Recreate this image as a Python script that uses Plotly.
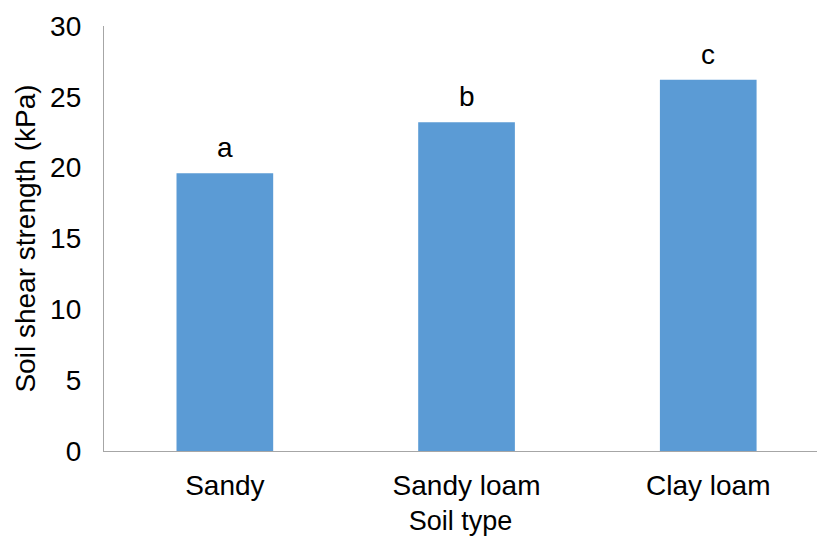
import plotly.graph_objects as go

# Soil shear strength by soil type, with significance letters
soil_types = ["Sandy", "Sandy loam", "Clay loam"]
shear_kpa = [19.6, 23.2, 26.2]
sig_letters = ["a", "b", "c"]
y_ticks = [0, 5, 10, 15, 20, 25, 30]

FONT = "Liberation Sans, Arial, sans-serif"
TICK_FONT = dict(family=FONT, size=28, color="black")

fig = go.Figure(
    go.Bar(
        x=list(range(len(soil_types))),
        y=shear_kpa,
        width=0.4,
        marker=dict(color="#5B9BD5", line=dict(width=0)),
        hoverinfo="skip",
    )
)

for i, (v, lab) in enumerate(zip(shear_kpa, sig_letters)):
    fig.add_annotation(
        x=i, y=v, text=lab, showarrow=False,
        yanchor="bottom", yshift=8,
        font=TICK_FONT,
    )

fig.update_layout(
    width=817, height=541,
    margin=dict(l=104, r=0, t=26, b=90),
    paper_bgcolor="white", plot_bgcolor="white",
    font=dict(family=FONT, size=27, color="black"),
    showlegend=False,
)

fig.update_xaxes(
    range=[-0.5, 2.45],
    tickmode="array",
    tickvals=list(range(len(soil_types))),
    ticktext=soil_types,
    tickfont=TICK_FONT,
    showline=True, linecolor="#A6A6A6", linewidth=1.3,
    showgrid=False, zeroline=False, ticks="",
    ticklabelstandoff=9,
    title=dict(text="Soil type", standoff=11,
               font=dict(family=FONT, size=27, color="black")),
)

fig.update_yaxes(
    range=[0, 30],
    tickvals=y_ticks,
    tickfont=TICK_FONT,
    showline=True, linecolor="#A6A6A6", linewidth=1.3,
    showgrid=False, zeroline=False, ticks="",
    ticklabelstandoff=16,
    title=dict(text="Soil shear strength (kPa)", standoff=6,
               font=dict(family=FONT, size=28, color="black")),
)

fig.write_html("out.html")
